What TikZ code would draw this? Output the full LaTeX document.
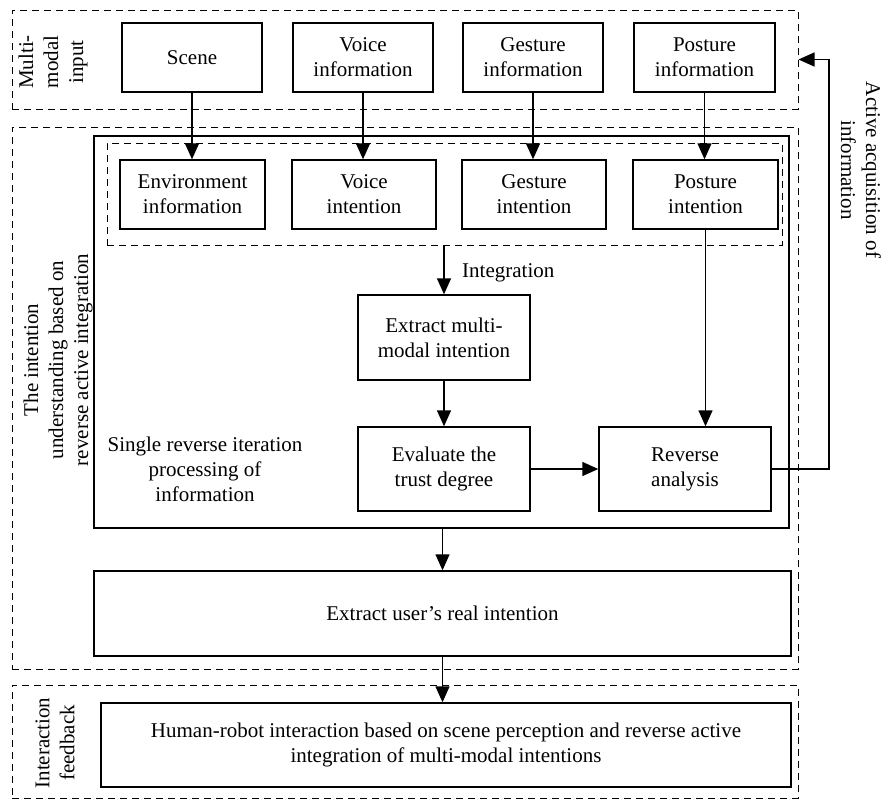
\documentclass[tikz,border=0pt]{standalone}
\usepackage{fontspec}
\setmainfont{Liberation Serif}
\usetikzlibrary{arrows.meta}
\begin{document}
\begin{tikzpicture}[x=1pt,y=-1pt,
  every node/.style={font=\fontsize{21}{25}\selectfont, align=center, inner sep=0pt},
  box/.style={draw, line width=1.4pt},
  dbox/.style={draw, line width=1pt, dash pattern=on 7pt off 5pt},
  arr/.style={line width=1.4pt, -{Triangle[length=16pt,width=14pt]}}]
\useasboundingbox (0,0) rectangle (885,803);
% group frames
\node[dbox, minimum width=786pt, minimum height=99pt] (ingrp) at (405,59.5) {};
\node[dbox, minimum width=786pt, minimum height=542pt] (undgrp) at (405,398) {};
\node[dbox, minimum width=786pt, minimum height=113pt] (fbgrp) at (405,741.5) {};
\node[box, minimum width=695pt, minimum height=392pt] (loop) at (441.5,332) {};
\node[dbox, minimum width=675pt, minimum height=102pt] (intgrp) at (444.5,194) {};
% input boxes
\node[box, minimum width=140pt, minimum height=69pt] (scene) at (192,57.5) {Scene};
\node[box, minimum width=140pt, minimum height=69pt] (voiceinfo) at (363,57.5) {Voice\\information};
\node[box, minimum width=140pt, minimum height=69pt] (gestinfo) at (533,57.5) {Gesture\\information};
\node[box, minimum width=141pt, minimum height=69pt] (postinfo) at (704.5,57.5) {Posture\\information};
% intention boxes
\node[box, minimum width=145pt, minimum height=69pt] (envint) at (192.5,194.5) {Environment\\information};
\node[box, minimum width=144pt, minimum height=69pt] (voiceint) at (364,194.5) {Voice\\intention};
\node[box, minimum width=144pt, minimum height=69pt] (gestint) at (534,194.5) {Gesture\\intention};
\node[box, minimum width=145pt, minimum height=69pt] (postint) at (705.5,194.5) {Posture\\intention};
% processing
\node[box, minimum width=172pt, minimum height=85pt] (extract) at (444,337.5) {Extract multi-\\modal intention};
\node[box, minimum width=172pt, minimum height=84pt] (evaluate) at (444,469) {Evaluate the\\trust degree};
\node[box, minimum width=172pt, minimum height=84pt] (reverse) at (685,469) {Reverse\\analysis};
\node[box, minimum width=697pt, minimum height=85pt] (user) at (442.5,613.5) {Extract user's real intention};
\node[box, minimum width=690pt, minimum height=84pt] (hri) at (446,745) {Human-robot interaction based on scene perception and reverse active\\integration of multi-modal intentions};
% labels
\node[rotate=90] (lblin) at (53,62) {Multi-\\modal\\input};
\node[rotate=90] (lblund) at (58,360) {The intention\\understanding based on\\reverse active integration};
\node[rotate=90] (lblfb) at (55,743) {Interaction\\feedback};
\node[rotate=-90] (lblact) at (861,170) {Active acquisition of\\information};
\node[anchor=west] (lblinteg) at (462,273) {Integration};
\node (lblsingle) at (205,469) {Single reverse iteration\\processing of\\information};
% connectors
\draw[arr] (scene.south) -- (scene.south |- envint.north);
\draw[arr] (voiceinfo.south) -- (voiceinfo.south |- voiceint.north);
\draw[arr] (gestinfo.south) -- (gestinfo.south |- gestint.north);
\draw[arr] (postinfo.south) -- (postinfo.south |- postint.north);
\draw[arr] (extract.north |- intgrp.south) -- (extract.north);
\draw[arr] (extract) -- (evaluate);
\draw[arr] (evaluate) -- (reverse);
\draw[arr] (postint.south) -- (postint.south |- reverse.north);
\coordinate (fbR) at (829,0);
\draw[arr] (reverse.east) -- (reverse.east -| fbR) -- (fbR |- ingrp.east) -- (ingrp.east);
\draw[arr] (user.north |- loop.south) -- (user.north);
\draw[arr] (user.south) -- (user.south |- hri.north);
\end{tikzpicture}
\end{document}
